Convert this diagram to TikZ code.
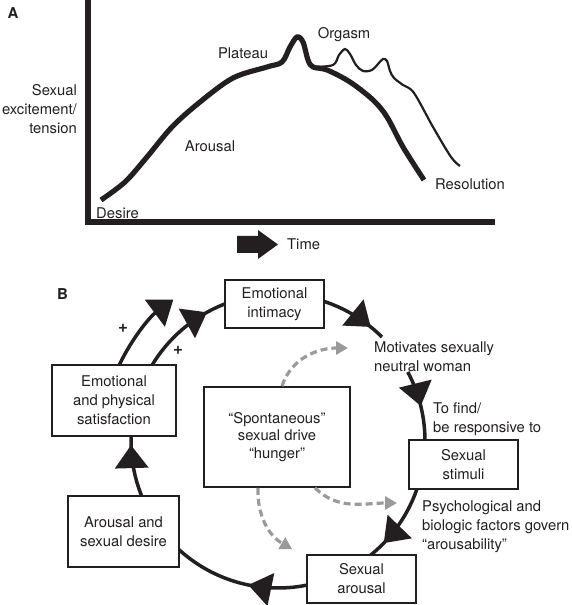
\documentclass[tikz,border=0pt]{standalone}
\usepackage{fontspec}
\setmainfont{TeX Gyre Heros}
\usetikzlibrary{arrows.meta,positioning,calc,decorations.markings}
\definecolor{cyInk}{HTML}{231F20}
\definecolor{cyDash}{HTML}{9A9A9A}
\newcommand\cyfont{\fontsize{14.8}{19}\selectfont}
\tikzset{
  box/.style={rectangle, draw=cyInk, line width=1.7pt, fill=white, align=center,
              inner sep=2pt, font=\cyfont, text=cyInk},
  txt/.style={align=left, inner sep=0pt, font=\cyfont, text=cyInk},
  tag/.style={inner sep=0pt, font=\fontsize{15}{16}\selectfont\bfseries, text=cyInk},
  ring/.style={color=cyInk, line width=3.5pt},
  tipat/.style={postaction={decorate}, decoration={markings,
      mark=at position #1 with {\arrow{Triangle[length=23pt,width=33pt]}}}},
  drive/.style={draw=cyDash, line width=3.2pt, dash pattern=on 7pt off 4pt,
                -{Triangle[length=12pt,width=13pt,fill=cyDash]}},
  curve/.style={draw=cyInk, line width=5.2pt, smooth, tension=0.55},
}

\begin{document}
\begin{tikzpicture}[x=1pt, y=1pt]
  \useasboundingbox (0,0) rectangle (572,605);

  % panel A: response curve
  \node[tag] (pa) at (13,592) {A};
  \draw[cyInk, line width=5.8pt] (88,605) -- (88,383) -- (495,383);
  \draw[curve] plot coordinates {(101,405) (125,423) (147,448) (172,478) (200,503)
    (233,527) (267,538) (282,543) (290,558) (297,568) (303,563) (308,545) (313,538)
    (327,535) (350,523) (373,505) (387,488) (403,458) (424,425)};
  \draw[curve, line width=2.2pt] plot coordinates {(313,538) (333,540) (339,550) (345,556)
    (350,551) (356,540) (363,534) (372,535) (378,541) (383,546) (387,544) (390,534)
    (394,527) (403,520) (414,512) (433,478) (451,448) (460,439)};
  \node[txt, align=right, anchor=east] (ylab) at (77,496) {Sexual\\excitement/\\tension};
  \node[txt] (desire) at (117.5,392) {Desire};
  \node[txt] (arousal) at (210,459) {Arousal};
  \node[txt] (plateau) at (243,552) {Plateau};
  \node[txt] (orgasm) at (344,570) {Orgasm};
  \node[txt] (resol) at (470,421) {Resolution};
  \fill[cyInk] (237,352) -- (258,352) -- (258,346) -- (278,360.5) -- (258,375)
    -- (258,369) -- (237,369) -- cycle;
  \node[txt, anchor=west] (time) at (287,360.5) {Time};

  % panel B: cycle
  \node[tag] (pb) at (62.5,311) {B};
  \coordinate (c) at (278,164);
  \draw[ring, tipat=0.79] ([shift={(73:147pt)}]c) arc[start angle=73, end angle=45, radius=147pt];
  \draw[ring, tipat=0.49] ([shift={(28:147pt)}]c) arc[start angle=28, end angle=-1, radius=147pt];
  \draw[ring, tipat=0.75] ([shift={(-17:147pt)}]c) arc[start angle=-17, end angle=-53, radius=147pt];
  \draw[ring, tipat=0.44] ([shift={(-77:147pt)}]c) arc[start angle=-77, end angle=-133, radius=147pt];
  \draw[ring, tipat=0.80] ([shift={(204:147pt)}]c) arc[start angle=204, end angle=176, radius=147pt];
  \draw[ring, tipat=0.77] ([shift={(152:147pt)}]c) arc[start angle=152, end angle=109, radius=147pt];
  \draw[ring, -{Triangle[length=23pt,width=33pt]}] ([shift={(156:176pt)}]c)
    arc[start angle=156, end angle=126.5, radius=176pt];

  \node[box, minimum width=99pt, minimum height=48pt] (ei) at (274.5,301) {Emotional\\intimacy};
  \node[box, minimum width=124pt, minimum height=71pt] (sat) at (114,204.5) {Emotional\\and physical\\satisfaction};
  \node[box, minimum width=146pt, minimum height=100pt, font=\fontsize{14.8}{17.5}\selectfont] (spont) at (277,168)
    {“Spontaneous”\\sexual drive\\“hunger”};
  \node[box, minimum width=111pt, minimum height=71pt] (ardes) at (123.5,73.5) {Arousal and\\sexual desire};
  \node[box, minimum width=109pt, minimum height=48pt] (sexar) at (361.5,26) {Sexual\\arousal};
  \node[box, minimum width=109pt, minimum height=49pt] (stim) at (463.5,140.5) {Sexual\\stimuli};

  \node[txt, anchor=west] (mot) at (374,248.5) {Motivates sexually\\neutral woman};
  \node[txt, anchor=west] (find) at (433,186) {To find/\\be responsive to};
  \node[txt, anchor=west] (psych) at (422,78) {Psychological and\\biologic factors govern\\“arousability”};
  \node[tag, font=\fontsize{17}{17}\selectfont\bfseries] (plusout) at (123,277) {+};
  \node[tag, font=\fontsize{17}{17}\selectfont\bfseries] (plusin) at (178,255) {+};

  \coordinate (motin) at ($(mot.west)+(-26pt,8.5pt)$);
  \draw[drive] ([xshift=5pt]spont.north) to[out=72,in=180] (motin);
  \draw[drive] ([xshift=38pt]spont.south) to[out=-45,in=180] ($(psych.west)+(-25pt,24pt)$);
  \draw[drive] ([xshift=-19pt]spont.south) to[out=-92,in=150] ($(sexar.north west)+(-14pt,5pt)$);
\end{tikzpicture}
\end{document}
